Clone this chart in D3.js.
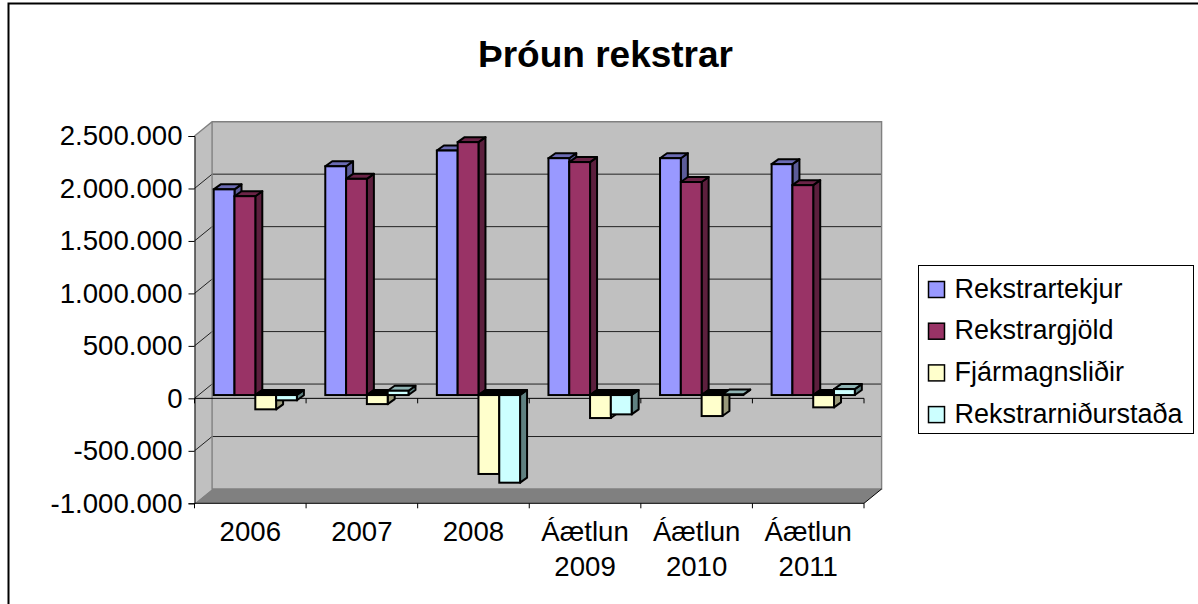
<!DOCTYPE html>
<html><head><meta charset="utf-8">
<script src="https://cdn.jsdelivr.net/npm/d3@7"></script>
<style>html,body{margin:0;padding:0;background:#fff}svg{display:block}text{font-family:"Liberation Sans",Arial,sans-serif;fill:#000}</style>
</head><body><svg id="c" width="1198" height="604"></svg>
<script>
const categories=[["2006"],["2007"],["2008"],["Áætlun","2009"],["Áætlun","2010"],["Áætlun","2011"]];
const seriesNames=["Rekstrartekjur","Rekstrargjöld","Fjármagnsliðir","Rekstrarniðurstaða"];
const rekstrartekjur=[1960000,2180000,2330000,2257000,2257000,2200000];
const rekstrargjold=[1895000,2060000,2410000,2220000,2030000,2000000];
const fjarmagnslidir=[-136000,-86000,-752000,-219000,-200000,-117000];
const rekstrarnidurstada=[-50000,41000,-835000,-184000,5000,57000];
const series=[rekstrartekjur,rekstrargjold,fjarmagnslidir,rekstrarnidurstada];
const colors=["#9999FF","#993366","#FFFFCC","#CCFFFF"];
const topColors=["#6B6BB3","#6B2447","#B3B38F","#8FB3B3"];
const sideColors=["#5C5C99","#5C1F3D","#99997A","#5F8080"];
const yTicks=[2500000,2000000,1500000,1000000,500000,0,-500000,-1000000];
const title="Þróun rekstrar";

const svg=d3.select("#c");
const fmt=d3.formatLocale({decimal:",",thousands:".",grouping:[3],currency:["",""],minus:"-"}).format(",d");
const y=d3.scaleLinear().domain([-1000000,2500000]).range([503.3,136]);
const x=d3.scaleBand().domain(d3.range(categories.length)).range([194.5,864]);
const depthX=17.6,depthY=-14.3;
const barDX=7,barDY=-5,shiftX=4.6,shiftY=-3.3,gapX=14.6,barW=20.8;
const poly=(g,pts,fill,stroke,sw)=>g.append("polygon").attr("points",pts.map(p=>p.join(",")).join(" ")).attr("fill",fill).attr("stroke",stroke||"none").attr("stroke-width",sw||0).attr("stroke-linejoin","round");

svg.append("rect").attr("x",8.5).attr("y",3.5).attr("width",1210).attr("height",620).attr("fill","#fff").attr("stroke","#000").attr("stroke-width",2);
svg.append("text").attr("x",605.5).attr("y",66.5).attr("text-anchor","middle").attr("font-weight","bold").attr("font-size",37).text(title);

const [x0,x1]=x.range(),yb=y(-1000000),yt=y(2500000);
const plot=svg.append("g");
poly(plot,[[x0,yb],[x0+depthX,yb+depthY],[x0+depthX,yt+depthY],[x0,yt]],"#C0C0C0");
poly(plot,[[x0+depthX,yb+depthY],[x1+depthX,yb+depthY],[x1+depthX,yt+depthY],[x0+depthX,yt+depthY]],"#C0C0C0");
poly(plot,[[x0,yb],[x1,yb],[x1+depthX,yb+depthY],[x0+depthX,yb+depthY]],"#808080");
yTicks.slice(1,-1).forEach(t=>{
  plot.append("polyline").attr("fill","none").attr("stroke","#222").attr("stroke-width",1)
   .attr("points",[[x0,y(t)],[x0+depthX,y(t)+depthY],[x1+depthX,y(t)+depthY]].map(p=>p.join(",")).join(" "));
});
plot.append("polyline").attr("fill","none").attr("stroke","#808080").attr("stroke-width",1.4)
 .attr("points",[[x0,yt],[x0+depthX,yt+depthY],[x1+depthX,yt+depthY],[x1+depthX,yb+depthY],[x0+depthX,yb+depthY],[x0+depthX,yt+depthY]].map(p=>p.join(",")).join(" "));
const yAxis=d3.axisLeft(y).tickValues(yTicks).tickFormat(fmt).tickSize(6).tickPadding(6);
const ya=svg.append("g").attr("transform",`translate(${x0},0)`).call(yAxis);
ya.selectAll("text").attr("font-size",27.6).attr("font-family",null);
ya.selectAll("path,line").attr("stroke","#000");
const tickX=d3.range(categories.length+1).map(i=>x0+i*x.step());
function catAxis(yy){
  svg.append("line").attr("x1",x0).attr("x2",x1).attr("y1",yy).attr("y2",yy).attr("stroke","#000");
  tickX.forEach(tx=>svg.append("line").attr("x1",tx).attr("x2",tx).attr("y1",yy).attr("y2",yy+5).attr("stroke","#000"));
}
catAxis(y(0));catAxis(yb);
svg.append("line").attr("x1",x1).attr("y1",yb).attr("x2",x1+depthX).attr("y2",yb+depthY).attr("stroke","#000");
categories.forEach((c,i)=>{
  const t=svg.append("text").attr("text-anchor","middle").attr("font-size",27.6);
  c.forEach((s,j)=>t.append("tspan").attr("x",x(i)+x.bandwidth()/2).attr("y",541+j*35).text(s));
});
const bars=svg.append("g");
const b0=y(0)+shiftY;
categories.forEach((c,i)=>{
  series.forEach((vals,s)=>{
    const v=vals[i];
    const L=x(i)+shiftX+gapX+s*barW,R=L+barW;
    const yv=y(v)+shiftY;
    const top=Math.min(yv,b0),bot=Math.max(yv,b0);
    const g=bars.append("g");
    poly(g,[[R,top],[R+barDX,top+barDY],[R+barDX,bot+barDY],[R,bot]],sideColors[s],"#000",2);
    poly(g,[[L,top],[L+barDX,top+barDY],[R+barDX,top+barDY],[R,top]],v<0?"#000":topColors[s],"#000",2);
    g.append("rect").attr("x",L).attr("y",top).attr("width",barW).attr("height",bot-top).attr("fill",colors[s]).attr("stroke","#000").attr("stroke-width",2);
  });
});
const lg=svg.append("g");
lg.append("rect").attr("x",918.5).attr("y",265.5).attr("width",275).attr("height",168).attr("fill","#fff").attr("stroke","#000").attr("stroke-width",1);
seriesNames.forEach((n,i)=>{
  const base=297.5+i*41.7;
  lg.append("rect").attr("x",928.5).attr("y",base-16).attr("width",16).attr("height",16).attr("fill",colors[i]).attr("stroke","#000").attr("stroke-width",1.5);
  lg.append("text").attr("x",954.5).attr("y",base).attr("font-size",27).text(n);
});
</script></body></html>
